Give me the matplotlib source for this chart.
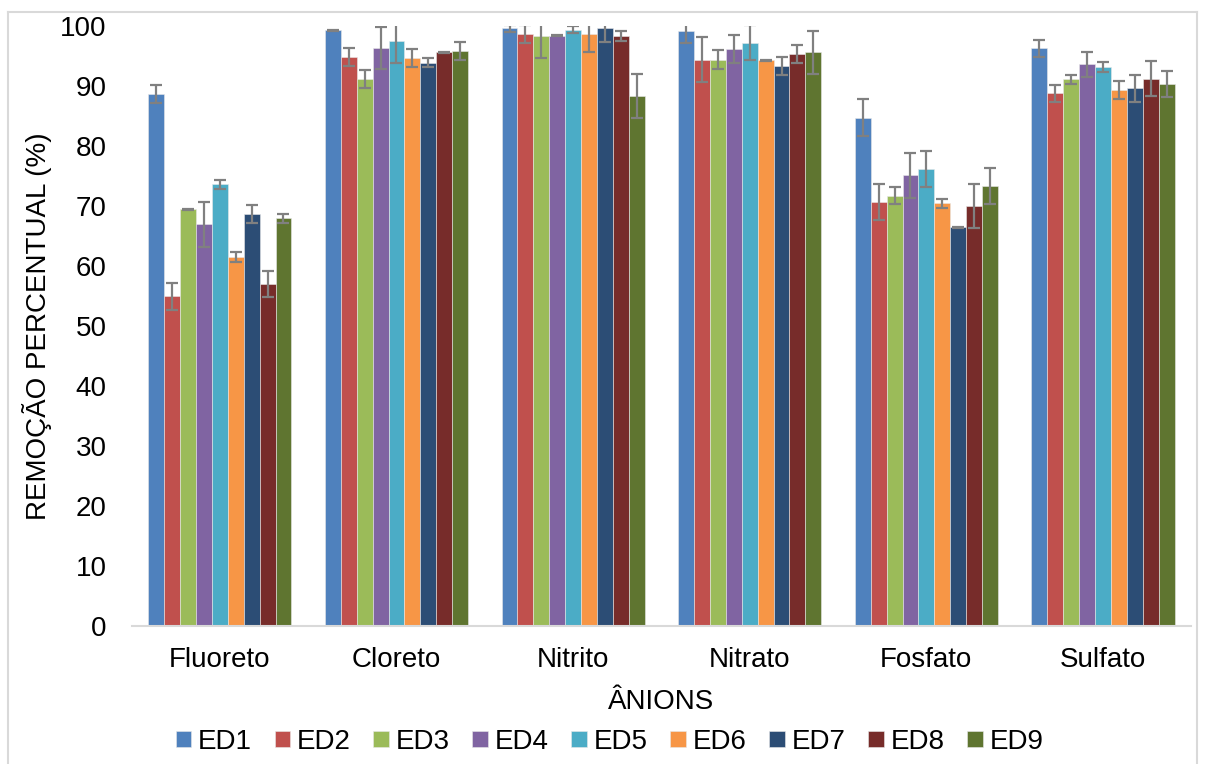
import numpy as np
import matplotlib
matplotlib.use("Agg")
import matplotlib.pyplot as plt
from matplotlib.lines import Line2D

plt.rcParams['font.family'] = ['Liberation Sans', 'DejaVu Sans']

anions = ["Fluoreto", "Cloreto", "Nitrito", "Nitrato", "Fosfato", "Sulfato"]
series = ["ED1", "ED2", "ED3", "ED4", "ED5", "ED6", "ED7", "ED8", "ED9"]
colors = ["#4F81BD", "#C0504D", "#9BBB59", "#8064A2", "#4BACC6",
          "#F79646", "#2C4D75", "#772C2A", "#5F7530"]

# medias por anion (linhas = ED1..ED9, colunas = anions)
ed1 = [88.7, 99.3, 99.6, 99.2, 84.7, 96.3]
ed2 = [54.9, 94.8, 98.6, 94.4, 70.7, 88.8]
ed3 = [69.4, 91.2, 98.3, 94.4, 71.7, 91.1]
ed4 = [66.9, 96.4, 98.4, 96.2, 75.1, 93.6]
ed5 = [73.6, 97.5, 99.4, 97.2, 76.2, 93.2]
ed6 = [61.5, 94.7, 98.7, 94.3, 70.4, 89.4]
ed7 = [68.6, 93.9, 99.6, 93.3, 66.4, 89.6]
ed8 = [57.0, 95.6, 98.3, 95.3, 70.0, 91.2]
ed9 = [67.9, 95.9, 88.3, 95.6, 73.3, 90.3]

# desvios
err1 = [1.5, 0.1, 0.6, 2.1, 3.1, 1.4]
err2 = [2.2, 1.5, 1.5, 3.8, 3.0, 1.4]
err3 = [0.1, 1.5, 3.6, 1.6, 1.4, 0.8]
err4 = [3.7, 3.5, 0.1, 2.3, 3.7, 2.1]
err5 = [0.7, 3.6, 0.6, 2.9, 3.0, 0.8]
err6 = [0.8, 1.5, 3.0, 0.1, 0.8, 1.5]
err7 = [1.5, 0.8, 2.2, 1.5, 0.1, 2.2]
err8 = [2.2, 0.1, 0.8, 1.5, 3.7, 2.9]
err9 = [0.7, 1.5, 3.7, 3.6, 3.0, 2.2]

valores = [ed1, ed2, ed3, ed4, ed5, ed6, ed7, ed8, ed9]
erros = [err1, err2, err3, err4, err5, err6, err7, err8, err9]

fig = plt.figure(figsize=(12.07, 7.64), dpi=100)
ax = fig.add_axes([0.109, 0.181, 0.878, 0.785])

x = np.arange(len(anions))
w = 0.09
for i, nome in enumerate(series):
    ax.bar(x + (i - 4) * w, valores[i], w, color=colors[i], label=nome,
           edgecolor="#e8e8e8", linewidth=0.4, zorder=2)
    ax.errorbar(x + (i - 4) * w, valores[i], yerr=erros[i], fmt="none",
                ecolor="#808080", elinewidth=1.6, capsize=4.5, capthick=1.6, zorder=3)

ax.set_ylim(0, 100)
ax.set_xlim(-0.5, len(anions) - 0.5)
ax.set_yticks(range(0, 101, 10))
ax.set_xticks(x)
ax.set_xticklabels(anions)
ax.tick_params(axis="both", length=0, labelsize=20)
ax.tick_params(axis="y", pad=18)
ax.tick_params(axis="x", pad=15)
for s in ["top", "right", "left"]:
    ax.spines[s].set_visible(False)
ax.spines["bottom"].set_color("#d9d9d9")
ax.spines["bottom"].set_linewidth(1.5)

ax.set_ylabel("REMOÇÃO PERCENTUAL (%)", fontsize=20, labelpad=6)
ax.set_xlabel("ÂNIONS", fontsize=20, labelpad=12)

fig.legend(loc="center", bbox_to_anchor=(0.505, 0.029), ncol=9, frameon=False,
           fontsize=20, handlelength=0.55, handleheight=0.55, handletextpad=0.25,
           columnspacing=0.82)

# moldura do grafico
fig.add_artist(Line2D([0.007, 0.992], [0.984, 0.984], color="#d9d9d9", lw=1.5))
fig.add_artist(Line2D([0.007, 0.007], [0.0, 0.984], color="#d9d9d9", lw=1.5))
fig.add_artist(Line2D([0.992, 0.992], [0.0, 0.984], color="#d9d9d9", lw=1.5))

fig.savefig("out.png", dpi=100)
